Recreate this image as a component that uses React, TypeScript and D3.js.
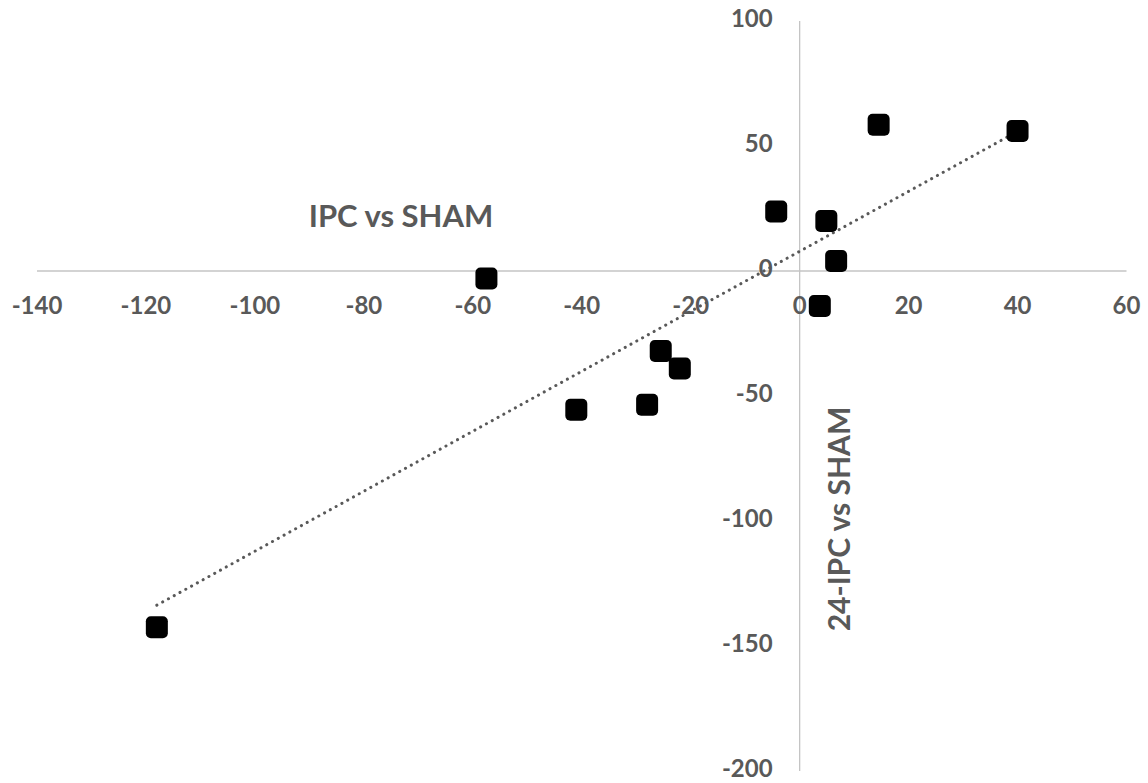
import React from "react";
import * as d3 from "d3";

const xValues = [-118, -57.5, -41, -28, -25.5, -22, -4.3, 3.7, 4.9, 6.7, 14.5, 40];
const yValues = [-142.5, -3, -55.5, -53.5, -32, -39, 23.8, -14, 20, 4, 58.5, 56];
const xTicks = [-140, -120, -100, -80, -60, -40, -20, 0, 20, 40, 60];
const yTicks = [100, 50, 0, -50, -100, -150, -200];
const xTitle = "IPC vs SHAM";
const yTitle = "24-IPC vs SHAM";

const W = 1148;
const H = 783;
const FONT = "Lato, 'Open Sans', sans-serif";
const TEXT = "#595959";
const AXIS = "#c4c4c4";

export default function App() {
  const x = d3.scaleLinear().domain([-140, 60]).range([37, 1126.5]);
  const y = d3.scaleLinear().domain([-200, 100]).range([771, 21]);

  const n = xValues.length;
  const mx = d3.mean(xValues) as number;
  const my = d3.mean(yValues) as number;
  let sxy = 0, sxx = 0;
  for (let i = 0; i < n; i++) {
    sxy += (xValues[i] - mx) * (yValues[i] - my);
    sxx += (xValues[i] - mx) ** 2;
  }
  const slope = sxy / sxx;
  const intercept = my - slope * mx;
  const [xmin, xmax] = d3.extent(xValues) as [number, number];
  const line = d3.line<number>().x((d) => x(d)).y((d) => y(slope * d + intercept));

  const size = 22;

  return (
    <svg width={W} height={H} style={{ position: "absolute", left: 0, top: 0, background: "#fff" }}>
      <line x1={x(-140)} x2={x(60)} y1={y(0)} y2={y(0)} stroke={AXIS} strokeWidth={1.3} />
      <line x1={x(0)} x2={x(0)} y1={y(100)} y2={y(-200)} stroke={AXIS} strokeWidth={1.3} />

      {xTicks.map((t) => (
        <text key={"x" + t} x={x(t)} y={y(0) + 37} textAnchor="middle" dominantBaseline="middle"
          fontFamily={FONT} fontWeight="bold" fontSize={24} fill={TEXT}>
          {t}
        </text>
      ))}
      {yTicks.map((t) => (
        <text key={"y" + t} x={x(0) - 27} y={y(t)} textAnchor="end" dominantBaseline="middle"
          fontFamily={FONT} fontWeight="bold" fontSize={24} fill={TEXT}>
          {t}
        </text>
      ))}

      <text x={401} y={219} textAnchor="middle" dominantBaseline="middle" fontFamily={FONT}
        fontWeight="bold" fontSize={31} fill={TEXT}>
        {xTitle}
      </text>
      <text transform={`translate(842,519) rotate(-90)`} textAnchor="middle" dominantBaseline="middle"
        fontFamily={FONT} fontWeight="bold" fontSize={30} fill={TEXT}>
        {yTitle}
      </text>

      <path d={line([xmin, xmax]) || ""} fill="none" stroke="#595959" strokeWidth={3}
        strokeDasharray="0.1 6.5" strokeLinecap="round" />

      {xValues.map((xv, i) => (
        <rect key={i} x={x(xv) - size / 2} y={y(yValues[i]) - size / 2} width={size} height={size}
          rx={5} ry={5} fill="#000" />
      ))}
    </svg>
  );
}
